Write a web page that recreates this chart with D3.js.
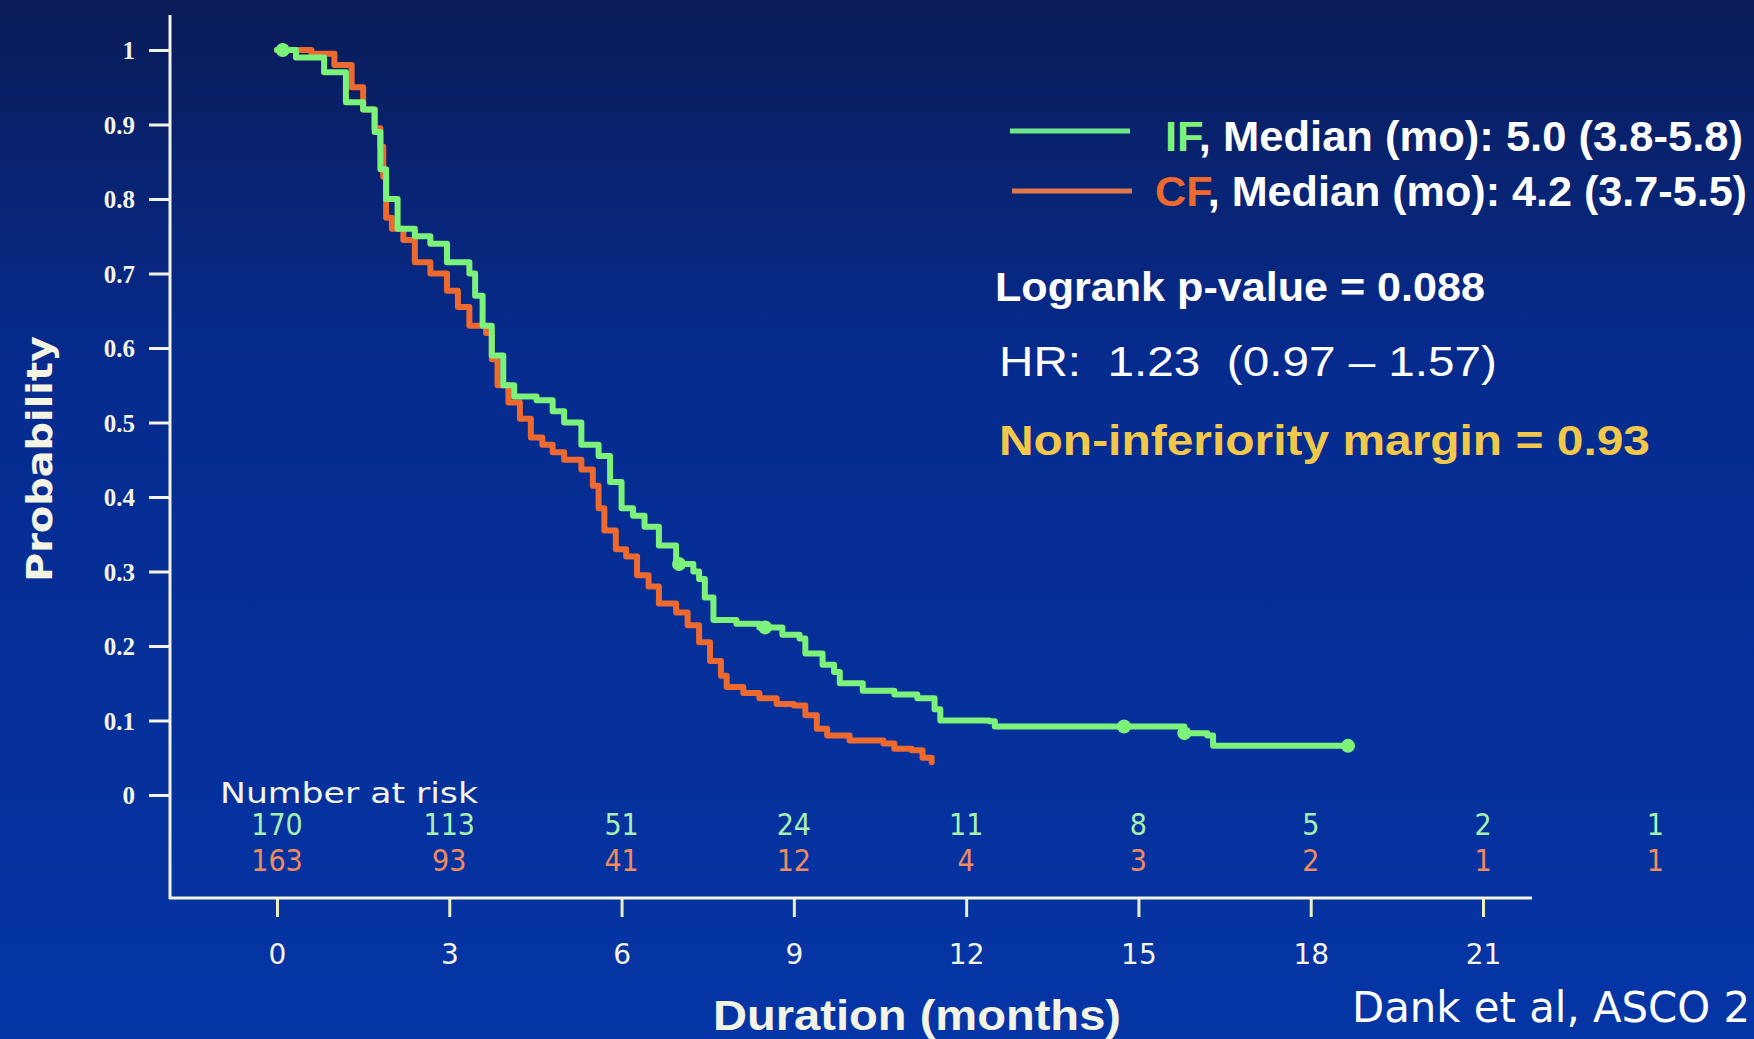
<!DOCTYPE html>
<html>
<head>
<meta charset="utf-8">
<script src="https://cdn.jsdelivr.net/npm/d3@7"></script>
<style>
  html, body { margin: 0; padding: 0; background: #062a8a; overflow: hidden; }
  svg { display: block; }
</style>
</head>
<body>
<svg id="chart" width="1754" height="1039"></svg>
<script>
// Kaplan-Meier curves (months, survival probability)
var ifTime = [0, 0.33, 0.82, 1.2, 1.5, 1.7, 1.8, 1.9, 2.1, 2.4, 2.67, 2.96, 3.35, 3.45, 3.58, 3.74, 3.94, 4.13, 4.52, 4.8, 5.0, 5.3, 5.6, 5.8, 6.0, 6.2, 6.4, 6.65, 6.95, 7.25, 7.35, 7.45, 7.6, 8.0, 8.4, 8.8, 9.1, 9.2, 9.5, 9.7, 9.8, 10.2, 10.75, 11.15, 11.45, 11.55, 12.4, 12.5, 15.8, 16.2, 16.3, 18.65];
var ifSurv = [1.0, 0.99, 0.97, 0.93, 0.92, 0.89, 0.84, 0.80, 0.76, 0.75, 0.74, 0.715, 0.70, 0.67, 0.63, 0.59, 0.55, 0.535, 0.53, 0.515, 0.50, 0.47, 0.455, 0.42, 0.385, 0.375, 0.36, 0.335, 0.31, 0.30, 0.29, 0.265, 0.235, 0.23, 0.225, 0.215, 0.21, 0.19, 0.175, 0.165, 0.15, 0.14, 0.135, 0.13, 0.115, 0.10, 0.099, 0.092, 0.083, 0.08, 0.066, 0.066];

var cfTime = [0, 0.6, 1.0, 1.3, 1.5, 1.7, 1.8, 1.85, 1.9, 2.0, 2.2, 2.4, 2.67, 2.96, 3.15, 3.35, 3.64, 3.74, 3.84, 4.03, 4.23, 4.42, 4.62, 4.8, 5.0, 5.3, 5.5, 5.6, 5.7, 5.9, 6.08, 6.27, 6.47, 6.65, 6.95, 7.15, 7.35, 7.54, 7.73, 7.83, 8.12, 8.4, 8.7, 9.0, 9.2, 9.4, 9.58, 9.97, 10.56, 10.75, 11.05, 11.24, 11.4];
var cfSurv = [1.0, 0.995, 0.98, 0.95, 0.92, 0.895, 0.87, 0.83, 0.775, 0.76, 0.745, 0.715, 0.70, 0.677, 0.655, 0.63, 0.62, 0.585, 0.55, 0.527, 0.505, 0.48, 0.47, 0.46, 0.45, 0.437, 0.415, 0.385, 0.355, 0.33, 0.32, 0.295, 0.28, 0.257, 0.245, 0.228, 0.205, 0.18, 0.16, 0.145, 0.137, 0.13, 0.122, 0.12, 0.107, 0.089, 0.08, 0.073, 0.069, 0.062, 0.06, 0.05, 0.044];

// censor marks on the IF curve
var ifCensor = [0.1, 7.0, 8.5, 14.75, 15.8, 18.65];

var xTicks = [0, 3, 6, 9, 12, 15, 18, 21];
var yTicks = [0, 0.1, 0.2, 0.3, 0.4, 0.5, 0.6, 0.7, 0.8, 0.9, 1];

var riskTimes = [0, 3, 6, 9, 12, 15, 18, 21, 24];
var ifRisk = [170, 113, 51, 24, 11, 8, 5, 2, 1];
var cfRisk = [163, 93, 41, 12, 4, 3, 2, 1, 1];

var green = "#7cf27a", orange = "#ec6a30", cream = "#f4f4e4";
var narrow = "'Liberation Sans Narrow', 'Arial Narrow', 'Liberation Sans', sans-serif";

var svg = d3.select("#chart");

// background
var defs = svg.append("defs");
var grad = defs.append("linearGradient").attr("id", "bg")
    .attr("x1", 0).attr("y1", 0).attr("x2", 0).attr("y2", 1);
grad.append("stop").attr("offset", "0%").attr("stop-color", "#0a1c58");
grad.append("stop").attr("offset", "35%").attr("stop-color", "#062b8e");
grad.append("stop").attr("offset", "100%").attr("stop-color", "#0535a6");
svg.append("rect").attr("width", 1754).attr("height", 1039).attr("fill", "url(#bg)");

var x = d3.scaleLinear().domain([0, 21]).range([277, 1483]);
var y = d3.scaleLinear().domain([0, 1]).range([795, 50]);

// axes
var yAxis = svg.append("g").attr("transform", "translate(170,0)")
    .call(d3.axisLeft(y).tickValues(yTicks).tickSize(21).tickPadding(14)
      .tickFormat(function(d) { return d === 0 ? "0" : d === 1 ? "1" : d3.format(".1f")(d); }));
yAxis.select(".domain").remove();
yAxis.selectAll(".tick line").attr("stroke", cream).attr("stroke-width", 3);
yAxis.selectAll(".tick text").attr("fill", cream)
    .style("font-family", "'Liberation Serif', serif").style("font-weight", "bold")
    .style("font-size", "25px").attr("dy", "0.35em");

var xAxis = svg.append("g").attr("transform", "translate(0,898)")
    .call(d3.axisBottom(x).tickValues(xTicks).tickSize(19).tickPadding(27));
xAxis.select(".domain").remove();
xAxis.selectAll(".tick line").attr("stroke", "#e8f0c0").attr("stroke-width", 3);
xAxis.selectAll(".tick text").attr("fill", cream)
    .style("font-family", "'DejaVu Sans', sans-serif").style("font-size", "28px");

svg.append("line").attr("x1", 170).attr("x2", 170).attr("y1", 15).attr("y2", 899)
    .attr("stroke", cream).attr("stroke-width", 3);
svg.append("line").attr("x1", 169).attr("x2", 1532).attr("y1", 898).attr("y2", 898)
    .attr("stroke", cream).attr("stroke-width", 3);

// curves
var line = d3.line()
    .x(function(d) { return x(d[0]); })
    .y(function(d) { return y(d[1]); })
    .curve(d3.curveStepAfter);

var cfData = cfTime.map(function(t, i) { return [t, cfSurv[i]]; });
var ifData = ifTime.map(function(t, i) { return [t, ifSurv[i]]; });

svg.append("path").datum(cfData).attr("d", line)
    .attr("fill", "none").attr("stroke", orange).attr("stroke-width", 6)
    .attr("stroke-linejoin", "round").attr("stroke-linecap", "round");
svg.append("path").datum(ifData).attr("d", line)
    .attr("fill", "none").attr("stroke", green).attr("stroke-width", 6)
    .attr("stroke-linejoin", "round").attr("stroke-linecap", "round");

function survAt(times, surv, t) {
  var i = d3.bisectRight(times, t) - 1;
  return surv[Math.max(0, i)];
}
svg.selectAll(".cens").data(ifCensor).enter().append("circle")
    .attr("cx", function(d) { return x(d); })
    .attr("cy", function(d) { return y(survAt(ifTime, ifSurv, d)); })
    .attr("r", 7).attr("fill", green);

// number at risk
svg.append("text").attr("x", 220).attr("y", 803).text("Number at risk")
    .attr("fill", cream).style("font-family", "'DejaVu Sans', sans-serif")
    .style("font-size", "29px").attr("textLength", 258).attr("lengthAdjust", "spacingAndGlyphs");

svg.selectAll(".riskIF").data(riskTimes).enter().append("text")
    .attr("x", function(d) { return x(d); }).attr("y", 835)
    .attr("text-anchor", "middle").attr("fill", "#a8f0b0")
    .style("font-family", "'DejaVu Sans Condensed', 'DejaVu Sans', sans-serif").style("font-size", "30px")
    .text(function(d, i) { return ifRisk[i]; });
svg.selectAll(".riskCF").data(riskTimes).enter().append("text")
    .attr("x", function(d) { return x(d); }).attr("y", 871)
    .attr("text-anchor", "middle").attr("fill", "#f08a60")
    .style("font-family", "'DejaVu Sans Condensed', 'DejaVu Sans', sans-serif").style("font-size", "30px")
    .text(function(d, i) { return cfRisk[i]; });

// axis titles
svg.append("text").attr("x", 917).attr("y", 1030).attr("text-anchor", "middle")
    .text("Duration (months)").attr("fill", cream)
    .style("font-family", narrow).style("font-weight", "bold").style("font-size", "42px")
    .attr("textLength", 408).attr("lengthAdjust", "spacingAndGlyphs");

svg.append("text").attr("transform", "translate(52,459) rotate(-90)")
    .attr("text-anchor", "middle").text("Probability").attr("fill", cream)
    .style("font-family", "'DejaVu Sans', sans-serif").style("font-weight", "bold").style("font-size", "36px")
    .attr("textLength", 246).attr("lengthAdjust", "spacingAndGlyphs");

// legend
svg.append("line").attr("x1", 1010).attr("x2", 1130).attr("y1", 131).attr("y2", 131)
    .attr("stroke", "#6ee888").attr("stroke-width", 5);
svg.append("line").attr("x1", 1012).attr("x2", 1132).attr("y1", 191).attr("y2", 191)
    .attr("stroke", "#e0784a").attr("stroke-width", 5);

var t1 = svg.append("text").attr("x", 1165).attr("y", 151)
    .style("font-family", narrow).style("font-weight", "bold").style("font-size", "42px")
    .attr("fill", "#ffffff").attr("textLength", 578).attr("lengthAdjust", "spacingAndGlyphs");
t1.append("tspan").attr("fill", green).text("IF");
t1.append("tspan").text(", Median (mo): 5.0 (3.8-5.8)");

var t2 = svg.append("text").attr("x", 1155).attr("y", 206)
    .style("font-family", narrow).style("font-weight", "bold").style("font-size", "42px")
    .attr("fill", "#ffffff").attr("textLength", 592).attr("lengthAdjust", "spacingAndGlyphs");
t2.append("tspan").attr("fill", orange).text("CF");
t2.append("tspan").text(", Median (mo): 4.2 (3.7-5.5)");

svg.append("text").attr("x", 995).attr("y", 301).text("Logrank p-value = 0.088")
    .attr("fill", "#ffffff").style("font-family", narrow).style("font-weight", "bold").style("font-size", "40px")
    .attr("textLength", 490).attr("lengthAdjust", "spacingAndGlyphs");

svg.append("text").attr("x", 999).attr("y", 376).text("HR:  1.23  (0.97 \u2013 1.57)")
    .attr("xml:space", "preserve").style("white-space", "pre")
    .attr("fill", "#ffffff").style("font-family", narrow).style("font-size", "42px")
    .attr("textLength", 498).attr("lengthAdjust", "spacingAndGlyphs");

svg.append("text").attr("x", 999).attr("y", 455).text("Non-inferiority margin = 0.93")
    .attr("fill", "#f2c84a").style("font-family", narrow).style("font-weight", "bold").style("font-size", "42px")
    .attr("textLength", 651).attr("lengthAdjust", "spacingAndGlyphs");

// source (cut at the slide edge in the original)
svg.append("text").attr("x", 1352).attr("y", 1022).text("Dank et al, ASCO 2")
    .attr("fill", "#ffffff").style("font-family", "'DejaVu Sans Condensed', 'DejaVu Sans', sans-serif")
    .style("font-size", "42px").attr("textLength", 398).attr("lengthAdjust", "spacingAndGlyphs");
</script>
</body>
</html>
